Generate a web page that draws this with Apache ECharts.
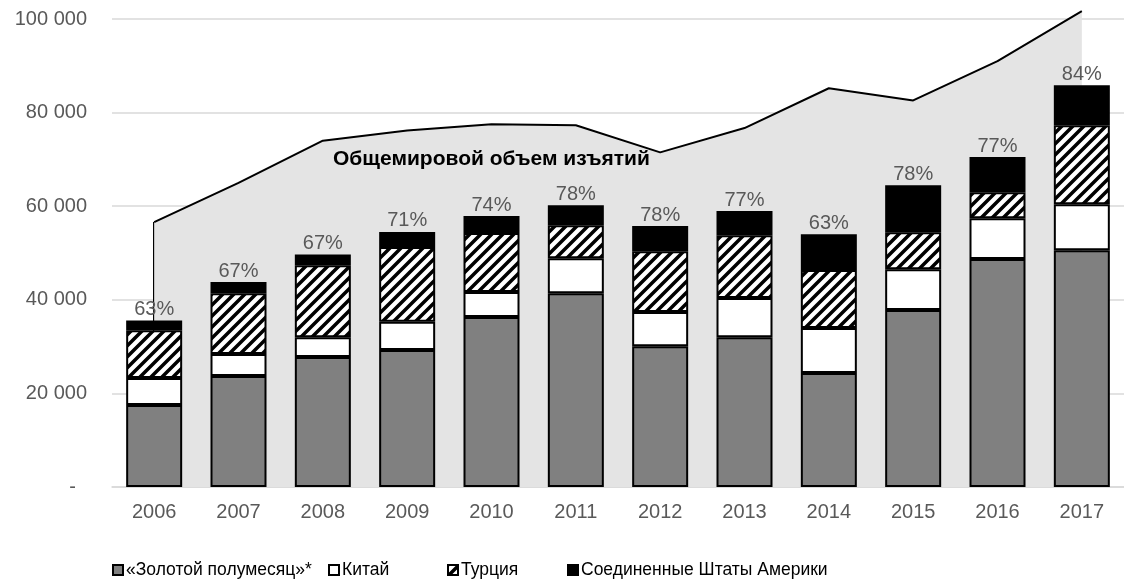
<!DOCTYPE html>
<html>
<head>
<meta charset="utf-8">
<script src="https://cdn.jsdelivr.net/npm/echarts@6/dist/echarts.min.js"></script>
<style>
  html, body { margin: 0; padding: 0; background: #fff; }
  #main { width: 1124px; height: 583px; }
</style>
</head>
<body>
<div id="main"></div>
<script>
var years = ['2006', '2007', '2008', '2009', '2010', '2011', '2012', '2013', '2014', '2015', '2016', '2017'];
var goldenCrescent = [17500, 23700, 27800, 29300, 36300, 41400, 30100, 32000, 24350, 37800, 48700, 50600];
var china = [5800, 4700, 4200, 6000, 5350, 7500, 7300, 8400, 9600, 8750, 8750, 9800];
var turkey = [10200, 13000, 15400, 16000, 12600, 7050, 13000, 13400, 12400, 7900, 5550, 16900];
var usa = [2100, 2400, 2300, 3200, 3650, 4250, 5350, 5150, 7650, 10050, 7500, 8550];
var worldTotal = [56600, 65000, 74000, 76200, 77500, 77300, 71500, 76700, 85200, 82600, 91000, 101700];
var shares = ['63%', '67%', '67%', '71%', '74%', '78%', '78%', '77%', '63%', '78%', '77%', '84%'];

var names = ['«Золотой полумесяц»*', 'Китай', 'Турция', 'Соединенные Штаты Америки'];
var FONT = '"Liberation Sans", Arial, sans-serif';

// diagonal hatch for Turkey
function hatch() {
  var s = 11;
  var c = document.createElement('canvas');
  c.width = s; c.height = s;
  var g = c.getContext('2d');
  g.fillStyle = '#fff';
  g.fillRect(0, 0, s, s);
  g.strokeStyle = '#000';
  g.lineWidth = 3.5;
  g.beginPath();
  g.moveTo(-2, s + 2); g.lineTo(s + 2, -2);
  g.moveTo(-3, 3); g.lineTo(3, -3);
  g.moveTo(s - 3, s + 3); g.lineTo(s + 3, s - 3);
  g.stroke();
  return c;
}

function fmt(v) {
  if (v === 0) return '-  ';
  return String(v).replace(/\B(?=(\d{3})+(?!\d))/g, ' ');
}

var chart = echarts.init(document.getElementById('main'));

function barSeries(name, data, color) {
  return {
    name: name,
    type: 'bar',
    stack: 'seizures',
    data: data,
    barWidth: 56,
    z: 3,
    itemStyle: { color: color, borderColor: '#000', borderWidth: 2 }
  };
}

var usaSeries = barSeries(names[3], usa, '#000');
usaSeries.label = {
  show: true,
  position: 'top',
  distance: 1,
  color: '#595959',
  fontSize: 20,
  fontFamily: FONT,
  formatter: function (p) { return shares[p.dataIndex]; }
};

var legendLefts = [112, 328, 447, 567];
var legends = names.map(function (n, i) {
  return {
    data: [n],
    left: legendLefts[i],
    top: 561,
    padding: 0,
    itemWidth: 10,
    itemHeight: 10,
    itemGap: 0,
    icon: 'rect',
    textStyle: { color: '#000', fontSize: 17.5, fontFamily: FONT, padding: [0, 0, 0, -2] }
  };
});

var option = {
  animation: false,
  backgroundColor: '#fff',
  grid: { left: 112, width: 1014, top: 19, bottom: 96 },
  legend: legends,
  xAxis: {
    type: 'category',
    data: years,
    axisLine: { lineStyle: { color: '#d9d9d9', width: 1.5 } },
    axisTick: { show: false },
    axisLabel: { color: '#595959', fontSize: 20, fontFamily: FONT, margin: 15 }
  },
  yAxis: {
    type: 'value',
    min: 0,
    max: 100000,
    interval: 20000,
    axisLine: { show: false },
    axisTick: { show: false },
    splitLine: { lineStyle: { color: '#d9d9d9', width: 1.5 } },
    axisLabel: { color: '#595959', fontSize: 20, fontFamily: FONT, margin: 25, formatter: fmt }
  },
  graphic: [{
    type: 'text',
    left: 333,
    top: 149,
    z: 10,
    style: { text: 'Общемировой объем изъятий', font: 'bold 21px ' + FONT, fill: '#000' }
  }],
  series: [
    {
      name: 'Общемировой объем изъятий',
      type: 'line',
      data: worldTotal,
      clip: false,
      symbol: 'none',
      z: 1,
      lineStyle: { color: '#000', width: 2 },
      areaStyle: { color: '#e4e4e4', opacity: 1 },
      markLine: {
        silent: true,
        z: 1,
        symbol: 'none',
        label: { show: false },
        lineStyle: { color: '#000', width: 2, type: 'solid' },
        data: [
          [{ coord: [years[0], 0] }, { coord: [years[0], worldTotal[0]] }],
          [{ coord: [years[years.length - 1], 0] }, { coord: [years[years.length - 1], worldTotal[years.length - 1]] }]
        ]
      }
    },
    barSeries(names[0], goldenCrescent, '#808080'),
    barSeries(names[1], china, '#fff'),
    barSeries(names[2], turkey, { image: hatch(), repeat: 'repeat' }),
    usaSeries
  ]
};

chart.setOption(option);
</script>
</body>
</html>
